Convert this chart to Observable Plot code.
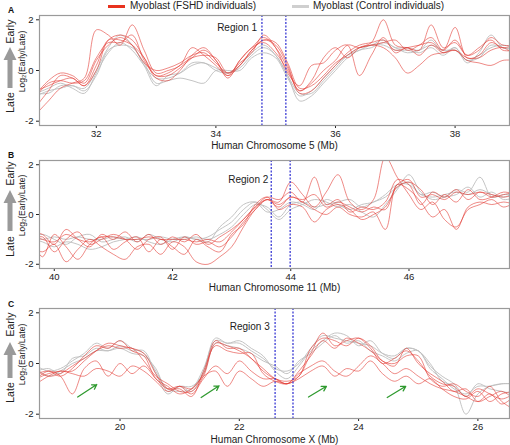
<!DOCTYPE html>
<html><head><meta charset="utf-8">
<script src="https://cdn.jsdelivr.net/npm/d3@7"></script>
<script src="https://cdn.jsdelivr.net/npm/@observablehq/plot@0.6"></script>
<style>
body{margin:0;background:#fff;font-family:"Liberation Sans",Arial,sans-serif;}
#root{position:relative;width:510px;height:445px;overflow:hidden;background:#fff;}
.panel{position:absolute;left:0;}
.lg{position:absolute;font-size:10px;color:#222;white-space:nowrap;line-height:12px;}
.sw{position:absolute;height:3px;width:17px;}
.letter{position:absolute;font-size:8.5px;font-weight:bold;color:#111;line-height:10px;}
</style></head>
<body><div id="root"></div>
<script>
// ---- legend / labels ----
const legendLabels = ["Myoblast (FSHD individuals)", "Myoblast (Control individuals)"];
const panelLetters = ["A", "B", "C"];
const axisTitles = ["Human Chromosome 5 (Mb)", "Human Chromosome 11 (Mb)", "Human Chromosome X (Mb)"];

// ---- Panel A: chromosome 5 ----
const posA = [31.0,31.2,31.4,31.6,31.8,32.0,32.2,32.4,32.6,32.8,33.0,33.2,33.4,33.6,33.8,34.0,34.2,34.4,34.6,34.8,35.0,35.2,35.4,35.6,35.8,36.0,36.2,36.4,36.6,36.8,37.0,37.2,37.4,37.6,37.8,38.0,38.2,38.4,38.6,38.8,39.0];
const fshdA1 = [-1.7,-1.2,-0.7,-0.5,-0.3, 1.6,1.4,1.0,1.8,0.8, -0.1,0.0,0.2,0.9,0.6, 0.2,-0.2,0.4,0.9,1.3, 0.9,0.1,-0.8,-0.4,0.5, 0.9,0.5,0.9,1.1,2.0, 1.0,0.9,0.8,1.8,0.9, 1.1,0.6,0.9,1.2,0.8, 0.8];
const fshdA2 = [-1.4,-0.8,-0.2,-0.3,-0.6, 0.0,1.2,1.4,1.2,0.5, -0.3,-0.4,0.0,0.6,0.9, 0.4,-0.2,0.2,0.8,1.2, 1.0,0.2,-0.9,-0.8,-0.3, 0.2,0.7,1.0,1.1,1.2, 0.8,0.9,1.0,1.1,0.8, 1.7,0.5,0.6,1.1,0.9, 1.0];
const fshdA3 = [-0.9,-0.4,-0.1,-0.2,-0.5, 0.4,1.0,1.3,1.0,0.3, 0.0,0.1,0.3,0.6,0.7, 0.3,-0.1,0.3,0.7,1.4, 0.9,-0.1,-0.6,0.2,0.3, 0.8,1.0,-0.2,0.6,1.3, 0.7,0.9,0.6,1.0,0.7, 0.8,0.5,0.5,0.8,0.9, 0.6];
const fshdA4 = [-1.0,-0.5,-0.4,-0.5,-0.4, 0.5,1.1,1.1,1.4,0.4, -0.2,-0.2,0.1,0.5,0.8, 0.4,-0.3,0.4,0.9,1.1, 0.7,0.0,-0.8,-0.5,0.0, 0.4,1.0,0.9,1.0,0.9, 0.5,-0.1,0.2,0.6,0.7, 0.8,0.4,0.3,0.2,0.4, 0.4];
const fshdA5 = [-0.8,-0.6,-0.4,-0.3,-0.6, 0.2,1.2,1.2,1.0,0.5, -0.2,-0.1,0.2,0.5,0.6, 0.5,-0.1,0.2,0.8,1.2, 1.1,0.3,-0.7,-0.6,-0.2, 0.3,0.6,0.9,1.0,1.1, 1.2,0.8,1.0,1.3,0.8, 1.2,0.6,0.8,1.3,1.0, 1.0];
const ctrlA1 = [-1.0,-0.8,-0.7,-0.6,-0.8, -0.2,0.8,1.0,0.9,0.3, -0.5,-0.4,-0.3,-0.4,-0.5, 0.0,0.0,0.0,0.5,0.7, 0.5,-0.3,-1.0,-0.8,-0.3, 0.2,0.6,0.8,1.0,1.0, 0.8,0.8,0.7,0.9,0.6, 0.9,0.4,0.6,0.9,1.0, 0.9];
const ctrlA2 = [-0.9,-0.9,-0.6,-0.6,-0.7, 0.0,0.9,1.4,1.0,0.2, -0.6,-0.2,-0.1,0.2,0.3, 0.0,-0.1,0.2,0.7,1.0, 0.6,-0.2,-0.9,-0.9,-0.4, 0.1,0.6,0.9,1.0,1.2, 0.9,0.9,0.8,1.2,0.7, 0.9,0.3,0.7,1.4,0.9, 0.9];
const ctrlA3 = [-0.9,-0.7,-0.5,-0.7,-0.9, -0.1,0.7,1.1,0.8,0.2, -0.3,-0.3,-0.1,0.3,0.3, 0.1,-0.1,0.1,0.6,0.9, 0.6,-0.2,-1.2,-1.0,-0.5, 0.0,0.5,0.8,0.9,1.1, 0.9,0.7,0.8,1.0,0.8, 0.8,0.4,0.5,1.0,0.9, 0.8];
const regionA = [34.77, 35.17];

// ---- Panel B: chromosome 11 ----
const posB = [39.6,39.8,40.0,40.2,40.4,40.6,40.8,41.0,41.2,41.4,41.6,41.8,42.0,42.2,42.4,42.6,42.8,43.0,43.2,43.4,43.6,43.8,44.0,44.2,44.4,44.6,44.8,45.0,45.2,45.4,45.6,45.8,46.0,46.2,46.4,46.6,46.8,47.0,47.2,47.4,47.6,47.8];
const fshdB1 = [-1.3,-1.5,-1.2,-1.9,-1.4, -1.0,-1.3,-1.6,-1.8,-1.3, -1.2,-1.6,-1.1,-1.3,-1.9, -2.0,-1.7,-1.3,-0.5,0.2, 0.6,0.3,0.7,0.5,0.2, 0.0,0.3,0.0,-0.1,0.1, -0.6,1.2,1.0,0.5,-0.1, 0.2,-0.6,0.3,0.5,0.4, 0.5,0.4];
const fshdB2 = [-0.7,-0.8,-1.2,-0.6,-1.0, -1.3,-0.8,-1.0,-0.7,-1.1, -0.8,-1.2,-0.9,-1.1,-0.8, -1.2,-0.9,-0.6,-0.2,0.3, 0.7,0.6,0.9,0.5,1.5, 0.4,0.6,0.1,0.3,0.2, 0.5,1.4,1.2,0.4,0.9, 0.7,1.0,0.6,0.9,0.7, 0.8,0.9];
const fshdB3 = [-1.0,-0.9,-1.5,-1.0,-0.7, -1.2,-1.0,-0.8,-1.0,-1.4, -1.0,-0.9,-1.4,-0.9,-1.2, -1.1,-1.3,-0.9,-0.3,0.2, 0.6,0.5,1.3,0.8,0.3, 0.9,1.6,0.5,0.2,0.6, 2.3,1.5,0.8,0.2,0.5, -0.2,-0.5,0.2,0.4,0.6, 0.3,0.5];
const fshdB4 = [-0.9,-1.7,-0.8,-1.3,-1.8, -1.2,-0.9,-1.4,-1.1,-0.9, -1.5,-1.0,-1.3,-1.6,-1.0, -1.3,-1.5,-0.8,-0.4,0.4, 0.7,0.2,0.4,0.3,-0.3, 0.2,0.4,0.2,-0.2,0.0, 0.3,1.1,1.3,1.0,0.4, 0.8,0.5,1.0,0.6,0.7, 0.9,0.8];
const fshdB5 = [-0.8,-1.0,-1.1,-0.8,-1.0, -1.1,-0.9,-0.9,-1.0,-1.0, -0.9,-1.0,-1.0,-1.0,-1.1, -1.0,-1.1,-0.7,-0.2,0.3, 0.6,0.4,0.7,0.6,0.8, 0.3,0.5,0.3,0.1,0.3, 0.2,1.2,1.4,0.7,0.8, 0.6,0.9,0.8,0.9,0.8, 0.7,0.8];
const ctrlB1 = [-0.9,-1.0,-0.9,-1.0,-0.9, -1.0,-1.0,-0.9,-1.0,-1.0, -1.0,-0.9,-1.0,-1.0,-0.9, -1.0,-0.8,-0.5,0.0,0.4, 0.3,-0.1,0.4,0.5,0.3, 0.4,0.5,0.6,0.3,0.5, 0.7,1.1,1.3,0.8,0.9, 0.7,1.0,0.9,1.5,0.7, 0.8,0.8];
const ctrlB2 = [-1.0,-1.1,-1.3,-1.1,-1.2, -1.4,-1.3,-1.1,-1.0,-0.9, -1.1,-1.2,-1.0,-0.9,-1.0, -0.9,-0.6,-0.3,0.2,0.5, 0.2,-0.2,0.2,0.4,0.6, 0.5,0.3,0.4,0.1,-0.1, 0.4,1.0,1.6,0.9,0.6, 0.7,0.8,1.1,0.7,0.9, 0.6,0.7];
const ctrlB3 = [-0.9,-0.8,-1.0,-1.2,-0.9, -0.8,-1.1,-1.0,-0.9,-1.1, -0.8,-1.0,-1.1,-0.9,-1.0, -1.1,-0.5,-0.1,0.4,0.5, 0.1,0.2,0.5,0.4,0.2, 0.6,0.4,0.2,0.4,0.5, 0.8,1.2,1.2,0.8,0.7, 0.8,0.9,0.8,1.0,0.8, 0.7,0.9];
const regionB = [43.67, 43.99];

// ---- Panel C: chromosome X ----
const posC = [18.6,18.8,19.0,19.2,19.4,19.6,19.8,20.0,20.2,20.4,20.6,20.8,21.0,21.2,21.4,21.6,21.8,22.0,22.2,22.4,22.6,22.8,23.0,23.2,23.4,23.6,23.8,24.0,24.2,24.4,24.6,24.8,25.0,25.2,25.4,25.6,25.8,26.0,26.2,26.4,26.6];
const fshdC1 = [-0.4,-0.3,-0.5,-0.2,0.3, 0.7,0.6,0.9,0.5,0.3, -0.6,-0.9,-1.2,-1.0,-0.4, 0.9,0.6,0.6,0.2,-0.2, -0.6,-0.8,-0.5,0.4,1.2, 0.7,0.9,1.0,0.6,0.0, 0.2,0.5,0.1,-0.5,-0.8, -0.9,-1.3,-1.0,-1.2,-1.4, -1.2];
const fshdC2 = [-0.6,-0.4,-0.3,-0.3,0.1, 0.5,0.8,0.7,0.6,0.4, -0.4,-1.0,-1.0,-1.3,-0.3, 0.7,0.5,0.4,0.4,-0.4, -0.7,-0.8,-0.3,0.3,0.9, 0.6,1.0,0.8,0.5,0.1, -0.1,0.6,0.0,-0.4,-0.7, -1.1,-1.0,-1.5,-1.3,-1.1, -1.4];
const fshdC3 = [-0.3,-0.5,-0.4,-0.1,0.2, 0.5,0.7,0.6,0.6,0.1, -0.5,-0.8,-1.1,-1.1,-0.5, 0.8,0.7,0.5,0.2,-0.3, -0.6,-0.7,-0.5,0.6,1.0, 0.9,0.7,1.0,0.7,0.1, 0.0,0.3,0.3,-0.6,-0.9, -0.8,-1.1,-1.3,-0.9,-1.5, -1.8];
const fshdC4 = [-0.6,-0.3,-0.5,-1.2,-0.2, 0.1,-0.5,0.0,-0.4,-0.1, -0.6,-1.0,-0.9,-1.2,-0.6, -0.1,-0.4,0.1,-0.3,-0.6, -0.6,-0.8,-0.4,-0.1,0.1, -0.3,-0.5,-0.1,0.3,0.0, -0.4,-0.2,-0.5,-0.8,-1.0, -1.1,-1.3,-1.5,-1.2,-1.6, -1.3];
const fshdC5 = [-0.8,-0.5,-0.3,-0.4,-0.5, -0.2,-0.3,-0.5,-0.1,-0.3, -0.7,-1.1,-0.9,-1.0,-0.5, -0.3,-0.9,-0.3,-0.6,-0.9, -0.7,-0.8,-0.6,-0.3,-0.1, -0.5,-0.2,-0.3,0.1,-0.4, -0.7,-0.5,-0.8,-0.6,-1.0, -1.3,-1.4,-1.1,-1.5,-1.2, -1.1];
const ctrlC1 = [-0.1,-0.3,-0.2,0.1,0.4, 0.8,0.6,0.9,0.6,0.4, -0.3,-1.0,-1.1,-1.0,-0.2, 0.9,0.8,0.8,0.5,0.2, -0.2,-0.3,0.0,0.6,1.1, 1.0,0.9,0.8,0.7,0.4, 0.3,0.6,0.5,0.0,-0.7, -0.9,-2.0,-1.2,-0.9,-0.8, -0.8];
const ctrlC2 = [-0.3,-0.2,-0.4,0.2,0.3, 0.6,0.5,0.7,0.5,0.5, -0.4,-1.2,-0.9,-1.1,-0.3, 1.0,0.8,0.9,0.6,0.3, -0.3,-0.6,-0.1,0.5,0.9, 1.2,1.1,0.7,0.9,0.4, 0.2,0.6,0.5,-0.1,-0.5, -0.8,-1.3,-0.8,-1.0,-1.1, -1.2];
const ctrlC3 = [-0.2,-0.5,-0.3,0.0,0.2, 0.5,0.5,0.6,0.4,0.3, -0.2,-1.1,-0.9,-0.9,-0.4, 0.8,0.7,0.6,0.4,0.1, -0.1,-0.4,0.1,0.4,0.8, 1.1,0.8,0.9,0.5,0.3, 0.1,0.4,0.5,-0.2,-0.6, -1.0,-1.2,-0.9,-0.9,-0.8, -0.8];
const regionC = [22.6, 22.9];
// green annotation arrows (tail x, tail y, head x, head y)
const arrowTailX = [19.29, 21.36, 23.16, 24.48];
const arrowTailY = [-1.32, -1.34, -1.32, -1.34];
const arrowHeadX = [19.61, 21.66, 23.46, 24.79];
const arrowHeadY = [-0.83, -0.88, -0.90, -0.90];

const regionLabels = ["Region 1", "Region 2", "Region 3"];
const regionLabelX = [34.69, 43.62, 22.51];
const regionLabelY = [1.69, 1.40, 1.43];
const yTicks = [-2, 0, 2];
const xTicksA = [32, 34, 36, 38], xTicksB = [40, 42, 44, 46], xTicksC = [20, 22, 24, 26];

const RED = "#e23a32", GREY = "#bdbdbd";
const root = document.getElementById("root");

function addEl(cls, css, text) {
  const d = document.createElement("div");
  d.className = cls; Object.assign(d.style, css);
  if (text) d.textContent = text;
  root.appendChild(d); return d;
}
addEl("sw", {left:"108px", top:"5px", background:"#e8321e"});
addEl("lg", {left:"130px", top:"0px"}, legendLabels[0]);
addEl("sw", {left:"292px", top:"5px", background:"#cfcfcf"});
addEl("lg", {left:"313px", top:"0px"}, legendLabels[1]);

function panel(cfg) {
  const rows = [];
  cfg.series.forEach(s => s.values.forEach((v, i) => rows.push({pos: cfg.pos[i], v, name: s.name, group: s.group})));
  const ctr = {textAnchor: "middle", lineAnchor: "middle", fill: "#222"};
  const marks = [
    Plot.line(rows.filter(r => r.group === "Control"), {x: "pos", y: "v", z: "name", stroke: GREY, strokeWidth: 0.9, curve: "catmull-rom", clip: true}),
    Plot.line(rows.filter(r => r.group === "FSHD"), {x: "pos", y: "v", z: "name", stroke: RED, strokeOpacity: 0.7, strokeWidth: 0.85, curve: "catmull-rom", clip: true}),
    Plot.ruleX(cfg.region, {stroke: "#3b3bd4", strokeWidth: 1.3, strokeDasharray: "2,1.5"}),
    Plot.text([0], {x: () => regionLabelX[cfg.k], y: () => regionLabelY[cfg.k], text: () => regionLabels[cfg.k], textAnchor: "end", fontSize: 10, fill: "#222"}),
    Plot.frame({stroke: "#9a9a9a", strokeWidth: 1.2}),
    Plot.text([axisTitles[cfg.k]], {frameAnchor: "bottom", dy: cfg.titleDy, text: d => d, fontSize: 10, ...ctr}),
    Plot.text(["Log\u2082(Early/Late)"], {frameAnchor: "left", dx: -17, dy: -9, rotate: -90, text: d => d, fontSize: 8.5, ...ctr}),
    Plot.text(["Early"], {frameAnchor: "top-left", dx: -29, dy: cfg.earlyDy, rotate: -90, text: d => d, fontSize: 10.5, ...ctr}),
    Plot.text(["Late"], {frameAnchor: "top-left", dx: -29, dy: cfg.lateDy, rotate: -90, text: d => d, fontSize: 10.5, ...ctr})
  ];
  if (cfg.arrows) marks.push(Plot.arrow(d3.range(arrowTailX.length), {x1: i => arrowTailX[i], y1: i => arrowTailY[i], x2: i => arrowHeadX[i], y2: i => arrowHeadY[i], stroke: "#2f9a2f", strokeWidth: 1.3, headLength: 6, bend: 0}));
  const svg = Plot.plot({
    width: 510, height: cfg.height,
    marginTop: 15, marginBottom: cfg.mb, marginLeft: 39, marginRight: 1,
    x: {domain: cfg.domain, ticks: cfg.ticks, tickSize: 3, tickPadding: 2, tickFormat: d => String(d), label: null},
    y: {domain: [-2.17, 2.17], ticks: yTicks, tickSize: 3, tickPadding: 3, tickFormat: d => String(d), label: null},
    style: {fontFamily: "'Liberation Sans', Arial, sans-serif", fontSize: "9.5px", color: "#222", background: "transparent", overflow: "visible"},
    marks
  });
  const cx = 10, tip = 15 + cfg.arrowTop, base = 15 + cfg.arrowTop + 13, bot = 15 + cfg.arrowBot;
  d3.select(svg).append("path")
    .attr("d", `M${cx},${tip} L${cx+6.5},${base} L${cx+2.5},${base} L${cx+2.5},${bot} L${cx-2.5},${bot} L${cx-2.5},${base} L${cx-6.5},${base} Z`)
    .attr("fill", "#9a9a9a");
  const div = document.createElement("div");
  div.className = "panel"; div.style.top = cfg.top + "px";
  div.appendChild(svg); root.appendChild(div);
  addEl("letter", {left: "8px", top: (cfg.letterY - 5) + "px"}, panelLetters[cfg.k]);
}

panel({k: 0, top: 0, height: 150, mb: 25, titleDy: 20, pos: posA, domain: [31.05, 38.91], ticks: xTicksA, region: regionA,
  earlyDy: 16, lateDy: 87, arrowTop: 32, arrowBot: 73, letterY: 10,
  series: [
    {name: "A-c1", group: "Control", values: ctrlA1}, {name: "A-c2", group: "Control", values: ctrlA2}, {name: "A-c3", group: "Control", values: ctrlA3},
    {name: "A-f1", group: "FSHD", values: fshdA1}, {name: "A-f2", group: "FSHD", values: fshdA2}, {name: "A-f3", group: "FSHD", values: fshdA3},
    {name: "A-f4", group: "FSHD", values: fshdA4}, {name: "A-f5", group: "FSHD", values: fshdA5}]});
panel({k: 1, top: 145, height: 150, mb: 27, titleDy: 19, pos: posB, domain: [39.75, 47.7], ticks: xTicksB, region: regionB,
  earlyDy: 13, lateDy: 86, arrowTop: 30, arrowBot: 71, letterY: 155,
  series: [
    {name: "B-c1", group: "Control", values: ctrlB1}, {name: "B-c2", group: "Control", values: ctrlB2}, {name: "B-c3", group: "Control", values: ctrlB3},
    {name: "B-f1", group: "FSHD", values: fshdB1}, {name: "B-f2", group: "FSHD", values: fshdB2}, {name: "B-f3", group: "FSHD", values: fshdB3},
    {name: "B-f4", group: "FSHD", values: fshdB4}, {name: "B-f5", group: "FSHD", values: fshdB5}]});
panel({k: 2, top: 293, height: 152, mb: 27, titleDy: 21, pos: posC, domain: [18.65, 26.53], ticks: xTicksC, region: regionC, arrows: true,
  earlyDy: 16, lateDy: 84, arrowTop: 34, arrowBot: 70, letterY: 304,
  series: [
    {name: "C-c1", group: "Control", values: ctrlC1}, {name: "C-c2", group: "Control", values: ctrlC2}, {name: "C-c3", group: "Control", values: ctrlC3},
    {name: "C-f1", group: "FSHD", values: fshdC1}, {name: "C-f2", group: "FSHD", values: fshdC2}, {name: "C-f3", group: "FSHD", values: fshdC3},
    {name: "C-f4", group: "FSHD", values: fshdC4}, {name: "C-f5", group: "FSHD", values: fshdC5}]});
</script>
</body></html>
